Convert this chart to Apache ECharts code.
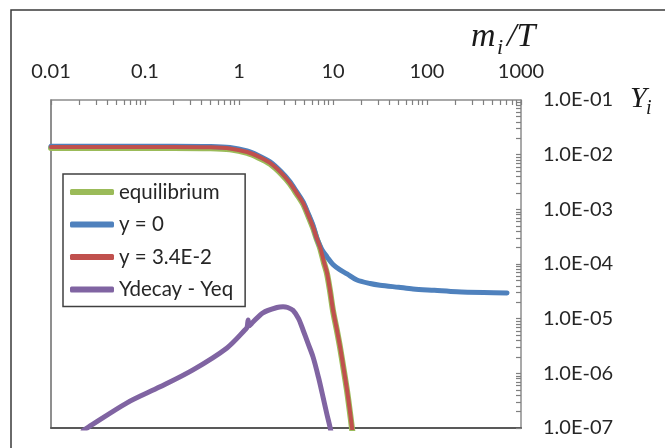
<!DOCTYPE html>
<html><head><meta charset="utf-8">
<script src="https://cdn.jsdelivr.net/npm/echarts@6/dist/echarts.min.js"></script>
<style>html,body{margin:0;padding:0;background:#fff}#c{width:665px;height:448px}</style>
</head><body><div id="c"></div>
<script>
// ---- data ----
const xTickLabels = ['0.01', '0.1', '1', '10', '100', '1000'];
const yTickLabels = ['1.0E-07', '1.0E-06', '1.0E-05', '1.0E-04', '1.0E-03', '1.0E-02', '1.0E-01'];
const seriesNames = ['equilibrium', 'y = 0', 'y = 3.4E-2', 'Ydecay - Yeq'];

const eqX = [0.01, 0.05, 0.2, 0.5, 0.8, 1.22, 1.6, 2.14, 2.8, 3.49, 4.1, 4.8, 5.4, 6.13, 6.7, 7.28, 8.0, 8.64, 9.3, 10.0, 11.0, 11.9, 13.0, 14.1, 15.0, 15.9, 17.0];
const eqY = [1.33e-2, 1.33e-2, 1.33e-2, 1.31e-2, 1.25e-2, 1.08e-2, 8.9e-3, 6.8e-3, 4.5e-3, 2.92e-3, 1.92e-3, 1.26e-3, 7.9e-4, 4.6e-4, 2.9e-4, 1.97e-4, 1.06e-4, 6.6e-5, 3.2e-5, 1.4e-5, 6.1e-6, 2.95e-6, 1.16e-6, 4.8e-7, 2.2e-7, 1.0e-7, 3.8e-8];

const y0X = [0.01, 0.05, 0.2, 0.5, 0.8, 1.22, 1.6, 2.14, 2.8, 3.49, 4.1, 4.8, 5.4, 6.13, 6.76, 7.6, 8.64, 10.0, 11.9, 14.1, 18.0, 24.8, 31.6, 50, 71, 120, 208, 400, 710];
const y0Y = [1.43e-2, 1.43e-2, 1.43e-2, 1.41e-2, 1.35e-2, 1.17e-2, 9.7e-3, 7.4e-3, 4.9e-3, 3.18e-3, 2.1e-3, 1.38e-3, 8.7e-4, 5.1e-4, 2.9e-4, 1.85e-4, 1.35e-4, 9.8e-5, 7.8e-5, 6.6e-5, 5.1e-5, 4.4e-5, 4.1e-5, 3.75e-5, 3.5e-5, 3.3e-5, 3.1e-5, 3.0e-5, 2.96e-5];

const y34X = [0.01, 0.05, 0.2, 0.5, 0.8, 1.22, 1.6, 2.14, 2.8, 3.49, 4.1, 4.8, 5.4, 6.13, 6.7, 7.28, 8.0, 8.64, 9.3, 10.0, 11.0, 11.9, 13.0, 14.1, 15.0, 15.9, 17.0];
const y34Y = [1.38e-2, 1.38e-2, 1.38e-2, 1.36e-2, 1.3e-2, 1.12e-2, 9.3e-3, 7.05e-3, 4.7e-3, 3.04e-3, 2.0e-3, 1.31e-3, 8.2e-4, 4.77e-4, 3.0e-4, 2.05e-4, 1.1e-4, 6.88e-5, 3.3e-5, 1.45e-5, 6.3e-6, 3.05e-6, 1.2e-6, 4.99e-7, 2.3e-7, 1.05e-7, 4.0e-8];

const decX = [0.022, 0.0248, 0.0644, 0.1445, 0.324, 0.745, 1.16, 1.22, 1.25, 1.28, 1.4, 1.8, 2.54, 2.94, 3.3, 3.75, 4.3, 4.8, 5.4, 6.13, 7.0, 7.83, 8.6, 9.3, 10.0];
const decY = [9.0e-8, 1.03e-7, 2.89e-7, 5.66e-7, 1.16e-6, 2.92e-6, 6.24e-6, 7.0e-6, 9.5e-6, 7.4e-6, 8.6e-6, 1.28e-5, 1.6e-5, 1.65e-5, 1.6e-5, 1.42e-5, 1.0e-5, 6.2e-6, 3.6e-6, 2.0e-6, 8.5e-7, 3.7e-7, 1.8e-7, 1.03e-7, 5.5e-8];

const colors = ['#9BBB59', '#4F81BD', '#C0504D', '#8064A2'];
const widths = [6, 5, 4, 5];

// ---- build ----
function pairs(xs, ys) { return xs.map((x, i) => [x, ys[i]]); }
function logTicks(lo, hi) {
  const out = [];
  for (let e = lo; e < hi; e++) for (let k = 1; k <= 9; k++) out.push(+(k * Math.pow(10, e)).toPrecision(3));
  out.push(Math.pow(10, hi));
  return out;
}
const FONT = 'Lato';
const TXT = '#262626';
const chart = echarts.init(document.getElementById('c'), null, { renderer: 'canvas' });
const datasets = [pairs(eqX, eqY), pairs(y0X, y0Y), pairs(y34X, y34Y), pairs(decX, decY)];

chart.setOption({
  animation: false,
  backgroundColor: '#fff',
  grid: { left: 51, right: 144, top: 100, bottom: 20, containLabel: false },
  xAxis: [{
    type: 'log', logBase: 10, min: 0.01, max: 1000, position: 'top',
    axisLine: { show: true, onZero: false, lineStyle: { color: '#8c8c8c', width: 1.5 } },
    axisTick: { show: true, inside: true, length: 5, customValues: logTicks(-2, 3), lineStyle: { color: '#7f7f7f', width: 1.2 } },
    minorTick: { show: false },
    splitLine: { show: false },
    axisLabel: { margin: 18, fontFamily: FONT, fontSize: 20, color: TXT,
      formatter: v => xTickLabels[Math.round(Math.log10(v)) + 2] }
  }, {
    type: 'value', position: 'bottom', min: 0, max: 1,
    axisLine: { show: true, onZero: false, lineStyle: { color: '#595959', width: 2 } },
    axisTick: { show: false }, axisLabel: { show: false }, splitLine: { show: false }
  }],
  yAxis: [{
    type: 'log', logBase: 10, min: 1e-7, max: 0.1, position: 'right',
    axisLine: { show: true, onZero: false, lineStyle: { color: '#8c8c8c', width: 1.5 } },
    axisTick: { show: true, inside: true, length: 5, customValues: logTicks(-7, -1), lineStyle: { color: '#7f7f7f', width: 1.2 } },
    splitLine: { show: false },
    axisLabel: { margin: 22, fontFamily: FONT, fontSize: 20, color: TXT,
      formatter: v => yTickLabels[Math.round(Math.log10(v)) + 7] }
  }, {
    type: 'value', position: 'left', min: 0, max: 1,
    axisLine: { show: true, onZero: false, lineStyle: { color: '#6a6a6a', width: 1.5 } },
    axisTick: { show: false }, axisLabel: { show: false }, splitLine: { show: false }
  }],
  legend: {
    orient: 'vertical', left: 63, top: 174,
    data: seriesNames,
    icon: 'roundRect', itemWidth: 44, itemHeight: 6, itemGap: 10.5,
    padding: [7, 12, 6, 7],
    backgroundColor: '#fff', borderColor: '#404040', borderWidth: 1.5,
    textStyle: { fontFamily: FONT, fontSize: 20.5, color: TXT, lineHeight: 22 }
  },
  series: seriesNames.map((n, i) => ({
    name: n, type: 'line', xAxisIndex: 0, yAxisIndex: 0,
    data: datasets[i], showSymbol: false, symbol: 'none', smooth: 0.3,
    clip: true,
    lineStyle: { color: colors[i], width: widths[i], cap: 'round', join: 'round' },
    itemStyle: { color: colors[i] }, z: 2 + i
  })),
  graphic: [
    { type: 'rect', shape: { x: 11, y: 10, width: 700, height: 500 }, style: { fill: 'none', stroke: '#3a3a3a', lineWidth: 1.5 }, z: -1 },
    { type: 'text', x: 471, y: 20, style: { text: 'm', font: 'italic 34px "Liberation Serif"', fill: '#1a1a1a' } },
    { type: 'text', x: 497, y: 37, style: { text: 'i', font: 'italic 22px "Liberation Serif"', fill: '#1a1a1a' } },
    { type: 'text', x: 507, y: 20, style: { text: '/T', font: 'italic 34px "Liberation Serif"', fill: '#1a1a1a' } },
    { type: 'text', x: 630, y: 84, style: { text: 'Y', font: 'italic 30px "Liberation Serif"', fill: '#1a1a1a' } },
    { type: 'text', x: 646, y: 99, style: { text: 'i', font: 'italic 20px "Liberation Serif"', fill: '#1a1a1a' } }
  ]
});
</script></body></html>
